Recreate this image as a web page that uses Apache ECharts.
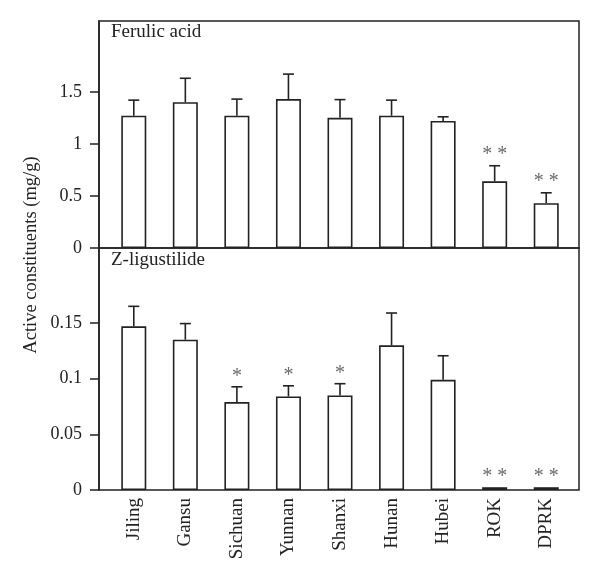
<!DOCTYPE html>
<html>
<head>
<meta charset="utf-8">
<script src="https://cdn.jsdelivr.net/npm/echarts@6/dist/echarts.min.js"></script>
<style>html,body{margin:0;padding:0;background:#fff;}#c{width:600px;height:582px;}</style>
</head>
<body>
<div id="c"></div>
<script>
var categories = ['Jiling', 'Gansu', 'Sichuan', 'Yunnan', 'Shanxi', 'Hunan', 'Hubei', 'ROK', 'DPRK'];
var ferulicMean = [1.27, 1.40, 1.27, 1.43, 1.25, 1.27, 1.22, 0.64, 0.43];
var ferulicErr  = [0.15, 0.23, 0.16, 0.24, 0.175, 0.15, 0.04, 0.15, 0.10];
var ferulicStars = ['', '', '', '', '', '', '', '* *', '* *'];
var ligMean = [0.147, 0.135, 0.079, 0.084, 0.085, 0.130, 0.099, 0.0025, 0.0025];
var ligErr  = [0.018, 0.0145, 0.0137, 0.0096, 0.0105, 0.029, 0.0216, 0, 0];
var ligStars = ['', '', '*', '*', '*', '', '', '* *', '* *'];
var ferulicTicks = [0, 0.5, 1, 1.5];
var ligTicks = [0, 0.05, 0.1, 0.15];
var ferulicMax = 2.18;
var ligMax = 0.2174;

var INK = '#222';
var FONT = 'Liberation Serif';

function errData(mean, err) {
  return mean.map(function (m, i) { return [i, m, err[i]]; });
}
function starData(mean, err, stars) {
  return mean.map(function (m, i) { return { value: [i, m + err[i]], label: stars[i] }; });
}
function renderErr(params, api) {
  var x = api.value(0), m = api.value(1), e = api.value(2);
  if (!e) return null;
  var p0 = api.coord([x, m]);
  var p1 = api.coord([x, m + e]);
  var st = { stroke: INK, lineWidth: 1.6 };
  return {
    type: 'group',
    children: [
      { type: 'line', shape: { x1: p0[0], y1: p0[1], x2: p1[0], y2: p1[1] }, style: st },
      { type: 'line', shape: { x1: p1[0] - 5.5, y1: p1[1], x2: p1[0] + 5.5, y2: p1[1] }, style: st }
    ]
  };
}
function frameY(gi, max, ticks) {
  return {
    gridIndex: gi, type: 'value', min: 0, max: max,
    axisLine: { show: true, lineStyle: { color: INK, width: 1.5 } },
    axisTick: { show: true, inside: false, length: 9, customValues: ticks, lineStyle: { color: INK, width: 1.5 } },
    axisLabel: { show: true, customValues: ticks, margin: 17, color: INK, fontFamily: FONT, fontSize: 18,
      formatter: function (v) { return String(v); } },
    splitLine: { show: false }
  };
}
function dataY(gi, max) {
  return { gridIndex: gi, type: 'value', min: 0, max: max, show: false };
}

var chart = echarts.init(document.getElementById('c'), null, { renderer: 'canvas' });
chart.setOption({
  backgroundColor: '#fff',
  animation: false,
  grid: [
    { left: 99, top: 21, width: 480, height: 227, show: true, borderColor: INK, borderWidth: 1.5, backgroundColor: 'transparent' },
    { left: 108, top: 21, width: 464, height: 227 },
    { left: 99, top: 248, width: 480, height: 242, show: true, borderColor: INK, borderWidth: 1.5, backgroundColor: 'transparent' },
    { left: 108, top: 248, width: 464, height: 242 }
  ],
  xAxis: [
    { gridIndex: 0, type: 'value', min: 0, max: 1, show: false },
    { gridIndex: 1, type: 'category', data: categories, axisLine: { show: false }, axisTick: { show: false }, axisLabel: { show: false } },
    { gridIndex: 2, type: 'value', min: 0, max: 1, show: false },
    { gridIndex: 3, type: 'category', data: categories, axisLine: { show: false }, axisTick: { show: false },
      axisLabel: { show: true, rotate: 90, margin: 8, interval: 0, color: INK, fontFamily: FONT, fontSize: 19 } }
  ],
  yAxis: [
    frameY(0, ferulicMax, ferulicTicks),
    dataY(1, ferulicMax),
    frameY(2, ligMax, ligTicks),
    dataY(3, ligMax)
  ],
  series: [
    { type: 'bar', xAxisIndex: 1, yAxisIndex: 1, data: ferulicMean, barWidth: 25,
      itemStyle: { color: '#fff', borderColor: INK, borderWidth: 1.6 } },
    { type: 'custom', xAxisIndex: 1, yAxisIndex: 1, data: errData(ferulicMean, ferulicErr), renderItem: renderErr, z: 3 },
    { type: 'scatter', xAxisIndex: 1, yAxisIndex: 1, symbolSize: 0, data: starData(ferulicMean, ferulicErr, ferulicStars),
      label: { show: true, position: 'top', distance: 1, color: '#444', fontFamily: FONT, fontSize: 20,
        formatter: function (p) { return p.data.label; } } },
    { type: 'bar', xAxisIndex: 3, yAxisIndex: 3, data: ligMean, barWidth: 25,
      itemStyle: { borderColor: INK, borderWidth: 1.6,
        color: function (p) { return p.value < 0.01 ? '#333' : '#fff'; } } },
    { type: 'custom', xAxisIndex: 3, yAxisIndex: 3, data: errData(ligMean, ligErr), renderItem: renderErr, z: 3 },
    { type: 'scatter', xAxisIndex: 3, yAxisIndex: 3, symbolSize: 0, data: starData(ligMean, ligErr, ligStars),
      label: { show: true, position: 'top', distance: 0, color: '#444', fontFamily: FONT, fontSize: 20,
        formatter: function (p) { return p.data.label; } } }
  ],
  graphic: [
    { type: 'text', left: 111, top: 23, style: { text: 'Ferulic acid', fill: INK, font: '19px "Liberation Serif"' } },
    { type: 'text', left: 111, top: 251, style: { text: 'Z-ligustilide', fill: INK, font: '19px "Liberation Serif"' } },
    { type: 'text', x: 31, y: 255, rotation: Math.PI / 2,
      style: { text: 'Active constituents (mg/g)', fill: INK, font: '18.5px "Liberation Serif"', align: 'center', verticalAlign: 'middle' } }
  ]
});
</script>
</body>
</html>
